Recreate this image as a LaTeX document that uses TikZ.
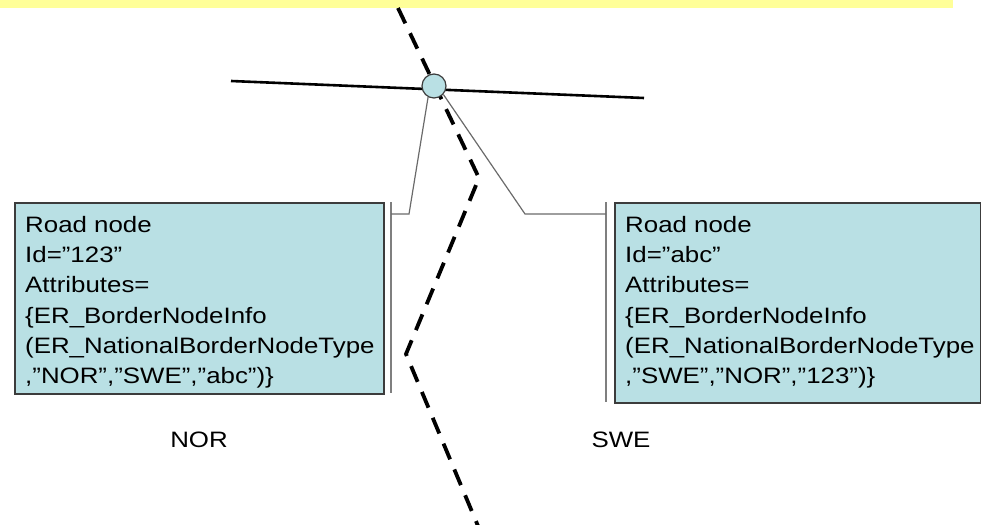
\documentclass[tikz,border=0pt]{standalone}
\usepackage{fontspec}
\setmainfont{Liberation Sans}[FakeStretch=1.16]
\definecolor{boxfill}{HTML}{B9E0E4}
\definecolor{boxline}{HTML}{3C3C3C}
\definecolor{barcol}{HTML}{7F7F7F}
\definecolor{linkcol}{HTML}{6A6A6A}
\definecolor{bandcol}{HTML}{FFFF99}
\tikzset{
  infobox/.style={draw=boxline, fill=boxfill, line width=1.6pt, anchor=north west, inner sep=0pt},
  infotext/.style={anchor=north west, align=left, inner sep=0pt, font=\fontsize{22.3}{30.3}\selectfont},
  country/.style={anchor=base, inner sep=0pt, font=\fontsize{22.3}{26}\selectfont},
  border/.style={line width=3.8pt, dash pattern=on 17pt off 11pt, line join=miter},
  road/.style={line width=2.6pt},
  link/.style={draw=linkcol, line width=1.2pt},
  bar/.style={draw=barcol, line width=2.4pt},
  junction/.style={circle, draw=boxline, fill=boxfill, line width=1.2pt, minimum size=24pt, inner sep=0pt}
}
\begin{document}
\begin{tikzpicture}[x=1pt, y=-1pt]
  \useasboundingbox (0,0) rectangle (981,524);
  % title band
  \fill[bandcol] (0,0) rectangle (953,8);

  % national border (dashed)
  \coordinate (b0) at (398,8);
  \coordinate (b1) at (479,178);
  \coordinate (b2) at (406,354);
  \coordinate (b3) at (478,526);
  \draw[border] (b0) -- (b1) -- (b2) -- (b3);

  % road crossing the border
  \coordinate (r0) at (231,81);
  \coordinate (r1) at (644,98);
  \draw[road] (r0) -- (r1);

  % border node
  \node[junction] (bn) at (434,86) {};

  % attribute boxes
  \node[infobox, minimum width=369pt, minimum height=191pt] (nor) at (14,202) {};
  \node[infotext] (nortext) at ([xshift=11pt, yshift=-14pt]nor.north west)
    {Road node\\Id=”123”\\Attributes=\\\{ER\_BorderNodeInfo\\(ER\_NationalBorderNodeType\\,”NOR”,”SWE”,”abc”)\}};

  \node[infobox, minimum width=366pt, minimum height=200pt] (swe) at (614,202) {};
  \node[infotext] (swetext) at ([xshift=11pt, yshift=-14pt]swe.north west)
    {Road node\\Id=”abc”\\Attributes=\\\{ER\_BorderNodeInfo\\(ER\_NationalBorderNodeType\\,”SWE”,”NOR”,”123”)\}};

  % brackets beside the boxes
  \coordinate (lbt) at (391,202);
  \coordinate (lbb) at (391,393);
  \coordinate (rbt) at (606,202);
  \coordinate (rbb) at (606,402);
  \draw[bar] (lbt) -- (lbb);
  \draw[bar] (rbt) -- (rbb);

  % callout lines from the border node
  \coordinate (lk) at (409,214);
  \coordinate (rk) at (525,214);
  \draw[link] (bn.242) -- (lk) -- (lbt |- lk);
  \draw[link] (bn.318) -- (rk) -- (rbt |- rk);

  % country labels
  \node[country] (lnor) at (199,447) {NOR};
  \node[country] (lswe) at (621,447) {SWE};
\end{tikzpicture}
\end{document}
